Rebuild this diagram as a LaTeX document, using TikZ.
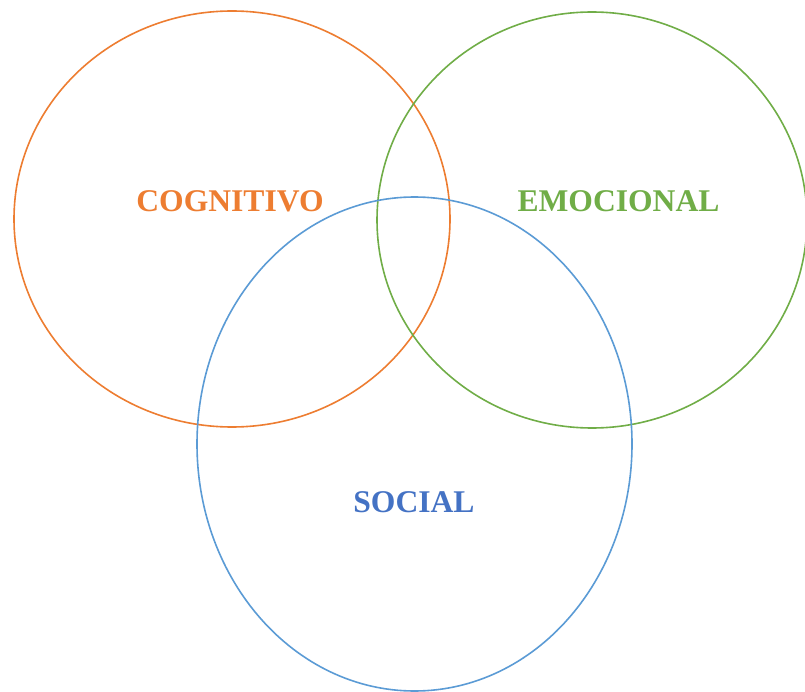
\documentclass[tikz,border=0pt]{standalone}
\usepackage{fontspec}
\setmainfont{Liberation Serif}
\definecolor{cogorange}{HTML}{ED7D31}
\definecolor{emogreen}{HTML}{70AD47}
\definecolor{socblue}{HTML}{5B9BD5}
\definecolor{soctext}{HTML}{4472C4}
\begin{document}
\begin{tikzpicture}[x=1pt, y=-1pt]
\tikzset{ ring/.style={line width=1.6pt}, lbl/.style={font=\fontsize{31.6}{32}\selectfont\bfseries, anchor=base, inner sep=0pt} }

\useasboundingbox (0,0) rectangle (805,692);

\draw [ring, cogorange] (232,219) ellipse [x radius=218, y radius=208];
\draw [ring, emogreen]  (592,220) ellipse [x radius=215, y radius=208];
\draw [ring, socblue]   (414.5,444) ellipse [x radius=217.5, y radius=247];

\node [lbl, cogorange] (cog) at (230,212) {COGNITIVO};
\node [lbl, emogreen]  (emo) at (618.5,212) {EMOCIONAL};
\node [lbl, soctext]   (soc) at (414,512) {SOCIAL};

\end{tikzpicture}
\end{document}
